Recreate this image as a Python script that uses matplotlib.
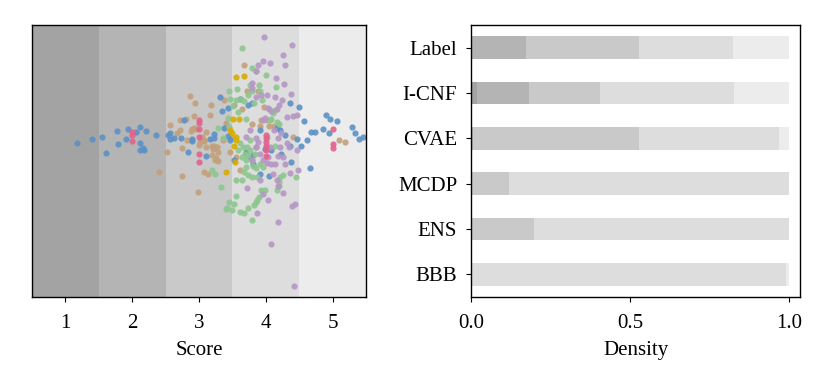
import numpy as np
import matplotlib
matplotlib.use("Agg")
import matplotlib.pyplot as plt

plt.rcParams['font.family'] = ['Liberation Serif', 'DejaVu Serif']
plt.rcParams['font.size'] = 15
plt.rcParams['xtick.major.pad'] = 8.5
plt.rcParams['ytick.major.pad'] = 6.5

# score bands (1..5) and their gray shades
scores = [1, 2, 3, 4, 5]
shades = ['#a3a3a3', '#b4b4b4', '#c9c9c9', '#dddddd', '#ececec']

# scatter points: (score, jitter) per group
blue_x = [1.17, 1.40, 1.55, 1.61, 1.77, 1.78, 1.93, 1.91, 2.06, 2.12, 2.21, 2.12, 2.16, 2.11, 2.17,
          2.36, 2.54, 2.56, 2.57, 2.63, 2.73, 2.78, 2.83, 2.90, 2.89, 3.10, 3.17, 3.22, 3.23, 3.32,
          3.35, 3.37, 3.43, 3.43, 3.46, 3.53, 3.62, 3.73, 3.76, 3.81, 3.79, 3.91, 4.04, 4.07, 4.16,
          4.21, 4.22, 4.29, 4.36, 4.36, 4.38, 4.46, 4.50, 4.52, 4.57, 4.62, 4.66, 4.68, 4.74, 4.86,
          4.90, 4.96, 5.06, 4.95, 5.29, 5.33, 5.39, 5.46, 3.91, 3.99, 3.71, 3.81]
blue_y = [-0.04, 0.02, 0.04, -0.19, 0.13, -0.06, 0.17, 0.02, 0.12, 0.19, 0.14, -0.04, -0.11, -0.15, -0.14,
          0.08, 0.08, 0.11, 0.02, 0.03, 0.03, 0.30, -0.17, -0.01, 0.02, -0.24, 0.02, 0.09, 0.03, 0.64,
          0.44, 0.18, 0.48, 0.06, 0.00, -0.30, 0.62, 0.52, -0.25, -0.22, 0.56, -0.51, -0.53, -0.15, 0.18,
          0.15, -0.20, 0.08, 0.55, -0.08, -0.33, 0.01, 0.50, -0.09, 0.29, 0.00, -0.41, 0.12, 0.12, 0.16,
          0.37, 0.32, 0.29, 0.10, 0.19, 0.11, 0.02, 0.04, 0.15, -0.13, -0.18, -0.35]

pink_x = [2.0, 2.0, 2.0, 3.0, 3.0, 3.0, 3.0, 3.0, 3.0, 4.0, 4.0, 4.0, 4.0, 4.0, 4.0, 5.0, 5.0, 5.0]
pink_y = [0.12, 0.08, -0.01, 0.30, 0.25, 0.17, 0.05, -0.20, -0.33, 0.08, 0.03, -0.03, -0.08, -0.14, -0.24,
          0.17, -0.06, -0.11]

yellow_x = [3.55, 3.68, 3.51, 3.60, 3.47, 3.50, 3.55, 3.56, 3.53, 3.54, 3.41]
yellow_y = [0.94, 0.96, 0.32, 0.31, 0.15, 0.10, 0.04, 0.00, -0.09, -0.33, -0.47]

tan_x = [2.40, 2.52, 2.56, 2.67, 2.72, 2.75, 2.75, 2.81, 2.86, 2.88, 2.90, 2.92, 2.93, 2.95, 2.94,
         2.98, 3.00, 3.02, 3.04, 3.07, 3.07, 3.08, 3.10, 3.14, 3.16, 3.18, 3.20, 3.21, 3.23, 3.24,
         3.26, 3.27, 3.29, 3.29, 3.38, 3.41, 3.46, 3.49, 3.53, 3.62, 3.65, 3.67, 3.72, 3.79, 3.89,
         3.91, 3.93, 3.98, 4.05, 4.12, 4.40, 5.09, 5.19, 3.36, 3.56, 3.86, 4.01, 2.72, 2.82, 3.11, 3.19]
tan_y = [-0.48, -0.17, 0.23, 0.10, 0.30, -0.11, -0.53, 0.31, 0.66, 0.13, 0.16, 0.18, 0.36, 0.17, 0.55,
         -0.77, -0.07, -0.03, 0.05, 0.00, -0.47, -0.02, 0.12, -0.50, 0.38, 0.52, -0.08, -0.13, -0.09, -0.30,
         -0.26, -0.10, -0.31, -0.17, 0.60, 0.25, -0.18, 0.03, 0.52, -0.45, 0.46, 1.12, 0.73, 0.24, 0.73,
         0.21, 0.30, 0.49, 0.21, 0.21, 0.05, 0.00, -0.03, 0.00, -0.25, -0.10, 0.30, 0.15, 0.00, -0.10, -0.22]

green_x = [3.65, 3.45, 3.47, 3.51, 3.55, 3.57, 3.59, 3.63, 3.67, 3.71, 3.74, 3.77, 3.79, 3.80, 3.82,
           3.85, 3.90, 3.91, 3.95, 4.00, 4.04, 4.07, 4.10, 4.14, 4.15, 4.17, 4.20, 3.29, 3.36, 3.44,
           3.45, 3.59, 3.61, 3.66, 3.69, 3.70, 3.71, 3.72, 3.74, 3.76, 3.77, 3.80, 3.81, 3.84, 3.86,
           3.91, 3.65, 3.67, 3.74, 3.79, 3.87, 3.96, 3.56, 3.33, 3.20, 3.24, 3.42, 3.40, 3.45, 3.49,
           3.52, 3.56, 3.62, 3.65, 3.67, 3.73, 3.79, 3.82, 3.85, 3.87, 3.90, 3.93, 3.95, 3.99, 4.16,
           4.20, 4.19, 4.21, 4.26, 4.45, 4.13, 4.01, 4.06]
green_y = [1.38, 0.74, 0.62, 0.51, 0.60, 0.77, 0.42, 0.62, 0.58, 0.31, 0.67, 0.83, 1.08, 0.73, 0.55,
           1.04, 0.82, 0.74, 0.60, 0.97, 0.47, 0.31, 0.40, 0.45, 0.80, 0.27, 0.24, 0.18, 0.03, 0.33,
           0.20, -0.15, -0.05, -0.10, -0.20, -0.30, -0.40, -0.10, -0.22, 0.00, -0.15, -0.30, -0.38, -0.20, -0.42,
           -0.35, -0.25, -0.48, -0.52, -0.55, -0.55, -0.40, -0.60, -0.70, -0.44, -0.50, -1.01, -1.03, -0.93, -1.05,
           -0.96, -0.83, -1.07, -0.60, -1.09, -1.01, -1.19, -0.97, -0.93, -0.90, -0.85, -0.75, -0.76, -0.75, -0.74,
           -0.69, -0.62, -0.55, -0.52, -0.55, -0.08, 0.05, 0.30]

purple_x = [3.98, 4.39, 4.25, 4.29, 4.06, 3.96, 3.89, 3.85, 4.15, 4.27, 3.79, 3.80, 3.86, 3.93, 4.01,
            4.14, 4.24, 4.37, 4.20, 4.32, 4.41, 4.46, 4.03, 4.07, 4.16, 3.96, 3.99, 4.12, 4.18, 4.23,
            4.35, 4.46, 4.31, 3.86, 3.91, 3.96, 4.02, 4.07, 4.13, 4.18, 4.26, 4.28, 4.36, 4.48, 4.17,
            4.18, 4.26, 4.39, 4.44, 4.03, 3.87, 3.72, 4.18, 4.07, 4.42, 3.89, 3.76, 3.86, 4.11, 4.03,
            3.91, 3.96, 3.71, 3.79, 4.21, 4.06]
purple_y = [1.54, 1.43, 1.27, 1.13, 1.15, 1.19, 1.12, 1.03, 0.93, 0.84, 0.85, 0.78, 0.65, 0.68, 0.68,
            0.64, 0.60, 0.69, 0.53, 0.34, 0.36, 0.37, 0.48, 0.44, 0.46, 0.30, 0.33, 0.15, 0.03, 0.10,
            -0.10, -0.15, -0.05, -0.10, -0.20, -0.30, -0.34, -0.36, -0.35, -0.24, -0.25, -0.35, -0.49, -0.44, -0.60,
            -0.68, -0.79, -0.99, -0.96, -0.90, -1.09, -0.72, -1.22, -1.55, -2.18, -0.03, 0.15, 0.03, -0.50, -0.25,
            -0.60, -0.80, 0.05, -0.30, -0.10, -0.10]

# score distribution per method (fractions for scores 1..5)
methods = ['Label', 'I-CNF', 'CVAE', 'MCDP', 'ENS', 'BBB']
density = {
    'Label': [0.000, 0.174, 0.355, 0.294, 0.177],
    'I-CNF': [0.019, 0.162, 0.226, 0.420, 0.173],
    'CVAE':  [0.000, 0.006, 0.523, 0.441, 0.030],
    'MCDP':  [0.000, 0.000, 0.118, 0.882, 0.000],
    'ENS':   [0.000, 0.000, 0.199, 0.801, 0.000],
    'BBB':   [0.000, 0.000, 0.000, 0.990, 0.010],
}

fig = plt.figure(figsize=(8.3, 3.88), dpi=100)
ax1 = fig.add_axes([0.0386, 0.2345, 0.4024, 0.701])
ax2 = fig.add_axes([0.5675, 0.2345, 0.3964, 0.701])

for s, c in zip(scores, shades):
    ax1.axvspan(s - 0.5, s + 0.5, color=c, lw=0, zorder=0)

groups = [
    (tan_x, tan_y, '#c2a07c'),
    (blue_x, blue_y, '#5b91c5'),
    (green_x, green_y, '#8ec690'),
    (purple_x, purple_y, '#b596c5'),
    (yellow_x, yellow_y, '#d6ad00'),
    (pink_x, pink_y, '#e2628c'),
]
for gx, gy, c in groups:
    ax1.scatter(gx, gy, s=20, color=c, alpha=0.9, lw=0, zorder=2)

ax1.set_xlim(0.5, 5.5)
ax1.set_ylim(-2.35, 1.725)
ax1.set_xticks(scores)
ax1.set_yticks([])
ax1.set_xlabel('Score', labelpad=6)

ypos = np.arange(len(methods))[::-1]
for i, m in enumerate(methods):
    left = 0.0
    for v, c in zip(density[m], shades):
        if v > 0:
            ax2.barh(ypos[i], v, left=left, height=0.5, color=c, lw=0)
        left += v

ax2.set_xlim(0, 1.035)
ax2.set_ylim(-0.5, 5.5)
ax2.set_yticks(ypos)
ax2.set_yticklabels(methods)
ax2.set_xticks([0.0, 0.5, 1.0])
ax2.set_xticklabels(['0.0', '0.5', '1.0'])
ax2.set_xlabel('Density', labelpad=6)

for ax in (ax1, ax2):
    for sp in ax.spines.values():
        sp.set_linewidth(1.0)

fig.savefig('out.png', dpi=100)
